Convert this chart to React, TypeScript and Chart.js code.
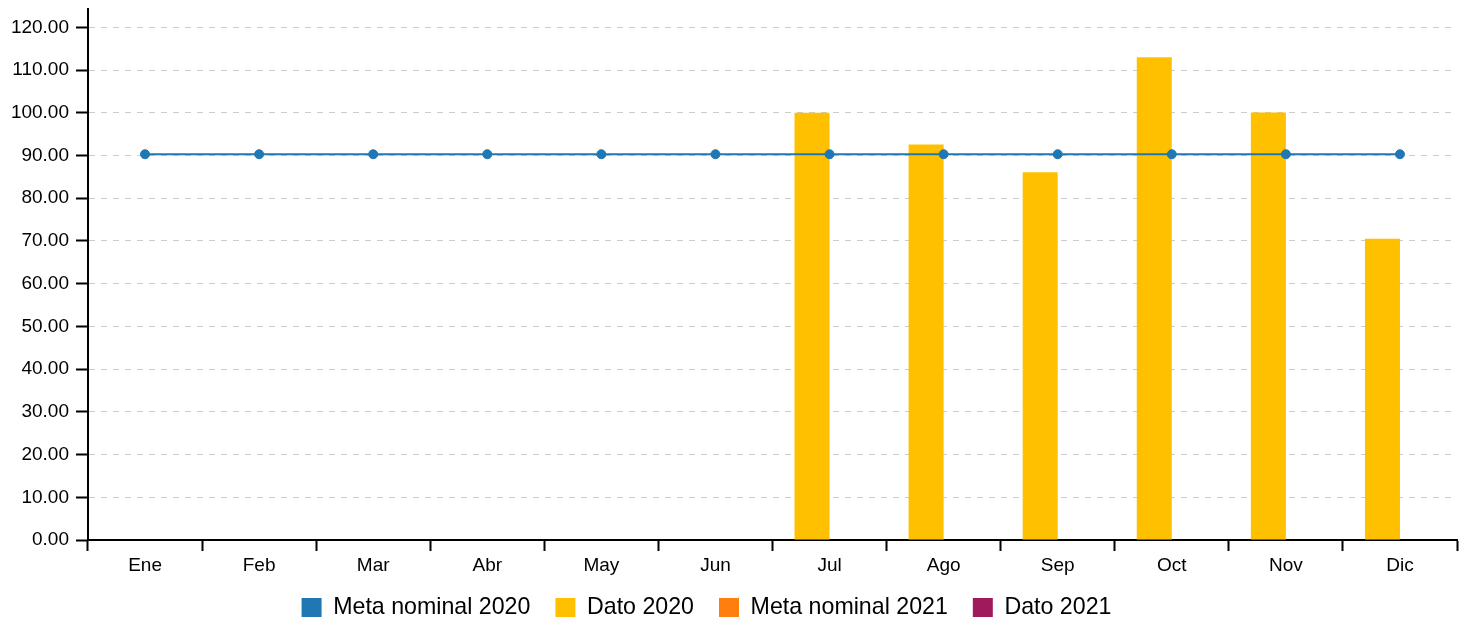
import { useEffect, useRef } from 'react';
import { Chart, registerables } from 'chart.js';

Chart.register(...registerables);

const months = ['Ene', 'Feb', 'Mar', 'Abr', 'May', 'Jun', 'Jul', 'Ago', 'Sep', 'Oct', 'Nov', 'Dic'];
const metaNominal2020 = [90.3, 90.3, 90.3, 90.3, 90.3, 90.3, 90.3, 90.3, 90.3, 90.3, 90.3, 90.3];
const dato2020 = [null, null, null, null, null, null, 100, 92.6, 86.1, 113, 100.1, 70.5];
const metaNominal2021 = [null, null, null, null, null, null, null, null, null, null, null, null];
const dato2021 = [null, null, null, null, null, null, null, null, null, null, null, null];
const yMax = 124.3;
const yStep = 10;

const colors = ['#1f77b4', '#ffc000', '#ff7f0e', '#9e1a5a'];
const FONT = "'Liberation Sans', Arial, sans-serif";

const legendShift = {
  id: 'legendShift',
  afterLayout(chart: any) {
    const l = chart.legend;
    if (!l) return;
    const dx = -22;
    const dy = -8.9;
    l.left += dx;
    l.right += dx;
    l.top += dy;
  },
};

export default function App() {
  const ref = useRef<HTMLCanvasElement | null>(null);

  useEffect(() => {
    if (!ref.current) return;
    const chart = new Chart(ref.current, {
      type: 'bar',
      data: {
        labels: months,
        datasets: [
          {
            type: 'line',
            label: 'Meta nominal 2020',
            data: metaNominal2020,
            borderColor: colors[0],
            backgroundColor: colors[0],
            borderWidth: 2,
            pointRadius: 4.5,
            pointBackgroundColor: colors[0],
            pointBorderColor: colors[0],
            pointBorderWidth: 1,
            tension: 0,
          } as any,
          {
            type: 'bar',
            label: 'Dato 2020',
            data: dato2020,
            backgroundColor: colors[1],
            borderWidth: 0,
            categoryPercentage: 0.614,
            barPercentage: 1.0,
          } as any,
          {
            type: 'line',
            label: 'Meta nominal 2021',
            data: metaNominal2021,
            borderColor: colors[2],
            backgroundColor: colors[2],
            borderWidth: 2,
            pointRadius: 4.5,
          } as any,
          {
            type: 'bar',
            label: 'Dato 2021',
            data: dato2021,
            backgroundColor: colors[3],
            borderWidth: 0,
            categoryPercentage: 0.614,
            barPercentage: 1.0,
          } as any,
        ],
      },
      options: {
        animation: false,
        responsive: true,
        maintainAspectRatio: false,
        layout: { padding: { top: 9, right: 10, bottom: 0, left: 0 } },
        plugins: {
          tooltip: { enabled: false },
          legend: {
            position: 'bottom',
            align: 'center',
            maxHeight: 42.2,
            labels: {
              boxWidth: 20,
              boxHeight: 19,
              padding: 25,
              color: '#000',
              font: { family: FONT, size: 23.2 },
              generateLabels: (c: any) => {
                const items = Chart.defaults.plugins.legend.labels.generateLabels(c);
                return items.map((it: any, i: number) => ({
                  ...it,
                  fillStyle: colors[i],
                  strokeStyle: colors[i],
                  lineWidth: 0,
                }));
              },
            },
          },
        },
        scales: {
          x: {
            offset: true,
            grid: {
              display: true,
              offset: true,
              drawOnChartArea: false,
              drawTicks: true,
              tickLength: 11,
              tickWidth: 2,
              tickColor: '#000',
              color: '#000',
            },
            border: { display: true, color: '#000', width: 2 },
            ticks: {
              color: '#000',
              padding: 3,
              font: { family: FONT, size: 19 },
              maxRotation: 0,
              autoSkip: false,
            },
          },
          y: {
            min: 0,
            max: yMax,
            afterFit: (s: any) => {
              s.width = 88;
              s.paddingTop = 0;
            },
            afterBuildTicks: (s: any) => {
              s.ticks.push({ value: yMax });
            },
            grid: {
              color: (ctx: any) => (ctx.tick && ctx.tick.value === yMax ? 'rgba(0,0,0,0)' : '#cccccc'),
              lineWidth: 1,
              drawTicks: true,
              tickLength: 12,
              tickWidth: 2,
              tickColor: '#000',
            },
            border: { display: true, color: '#000', width: 2, dash: [6, 6] },
            ticks: {
              stepSize: yStep,
              includeBounds: false,
              padding: 7,
              color: '#000',
              font: { family: FONT, size: 19 },
              callback: (v: any) => {
                const n = Number(v);
                return Math.abs(n % yStep) < 1e-9 ? n.toFixed(2) : null;
              },
            },
          },
        },
      },
      plugins: [legendShift],
    });
    return () => chart.destroy();
  }, []);

  return (
    <div style={{ position: 'fixed', left: 0, top: 0, width: 1467, height: 622, background: '#fff' }}>
      <canvas ref={ref} />
    </div>
  );
}
